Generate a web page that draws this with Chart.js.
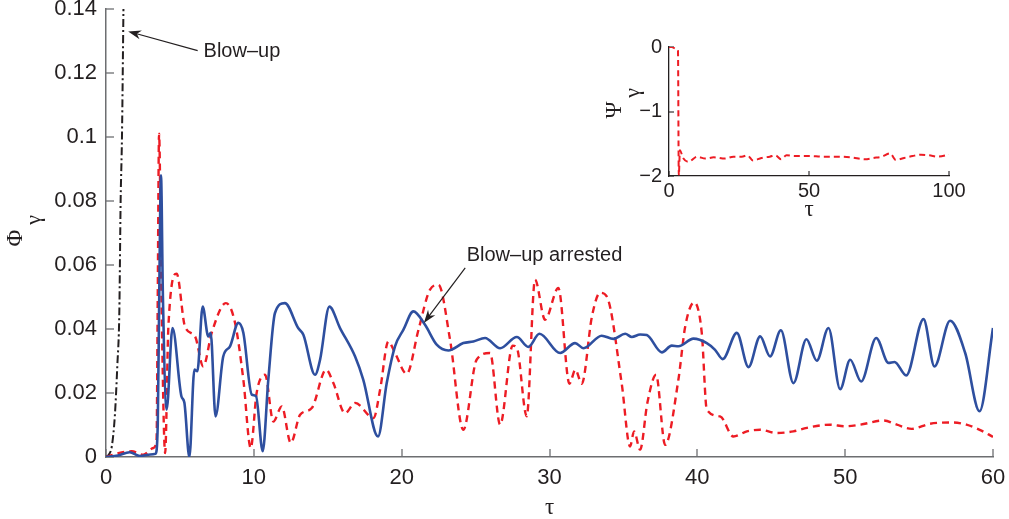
<!DOCTYPE html>
<html>
<head>
<meta charset="utf-8">
<script src="https://cdn.jsdelivr.net/npm/chart.js@4"></script>
<style>
  html, body { margin: 0; padding: 0; background: #ffffff; }
  #wrap { position: relative; width: 1009px; height: 519px; }
  canvas { position: absolute; left: 0; top: 0; }
</style>
</head>
<body>
<div id="wrap">
  <canvas id="main" width="1009" height="519"></canvas>
  <canvas id="inset" width="1009" height="519"></canvas>
</div>
<script>
// ---------- data ----------
const blowUpTau = [0, 0.2, 0.4, 0.6, 0.77, 0.9, 0.99, 1.08, 1.18];
const blowUpPhi = [0, 0.0008, 0.0035, 0.013, 0.029, 0.045, 0.08, 0.1, 0.14];

const redTau = [0, 0.83, 1.74, 2.52, 3.2, 3.42, 3.5, 3.59, 3.75, 4.0, 4.22, 4.78, 5.34, 6.02, 6.58, 7.15, 8.11, 8.73, 9.29, 9.79,
  10.19, 10.76, 11.32, 11.89, 12.5, 13.13, 13.92, 14.89, 15.38, 16.17, 16.85, 18.1, 18.54, 19.1, 19.55, 20.34, 21.14, 21.92, 22.49, 23.27,
  24.17, 25.07, 25.98, 26.66, 27.51, 27.8, 28.46, 29.02, 29.7, 30.6, 31.35, 31.75, 32.18, 32.87, 33.42, 33.87, 34.88, 35.45, 35.72, 36.13,
  36.62, 37.21, 37.82, 38.72, 39.18, 39.78, 40.3, 40.64, 41.54, 42.44, 43.35, 44.25, 45.37, 46.5, 47.41, 48.98, 50.0, 51.0, 52.6, 53.5,
  54.5, 55.75, 57.3, 58.2, 59.1, 60];
const redPhi = [0, 0.0012, 0.0018, 0.0007, 0.0028, 0.0054, 0.05, 0.101, 0.05, 0.0012, 0.0408, 0.0573, 0.0408, 0.0377, 0.0283, 0.0388, 0.0481, 0.0419, 0.0242, 0.0028,
  0.02, 0.0257, 0.0111, 0.0158, 0.0044, 0.0132, 0.0153, 0.0273, 0.0231, 0.0137, 0.0169, 0.0122, 0.021, 0.0361, 0.0325, 0.026, 0.0398, 0.0523, 0.0538, 0.0367,
  0.0085, 0.0304, 0.0325, 0.0101, 0.0348, 0.034, 0.0127, 0.0554, 0.0429, 0.0528, 0.0229, 0.0273, 0.0229, 0.0439, 0.0513, 0.0502, 0.0231, 0.0033, 0.008, 0.0023,
  0.0169, 0.0257, 0.0038, 0.0242, 0.0408, 0.0483, 0.0388, 0.0148, 0.0127, 0.0064, 0.008, 0.0085, 0.0075, 0.008, 0.0091, 0.0101, 0.0096, 0.0101, 0.0114, 0.0101,
  0.0088, 0.0104, 0.0108, 0.0101, 0.0085, 0.0063];

const blueTau = [0, 0.8, 1.6, 2.3, 3.0, 3.35, 3.5, 3.6, 3.72, 3.85, 4.1, 4.5, 5.1, 5.3, 5.64, 5.98, 6.18, 6.54, 6.92, 7.08,
  7.41, 7.93, 8.39, 8.95, 9.29, 9.86, 10.15, 10.6, 10.98, 11.43, 12.1, 13.0, 13.35, 14.14, 14.48, 15.11, 15.83, 16.85, 17.4, 18.4,
  18.99, 19.55, 20.12, 20.79, 21.58, 22.37, 23.16, 24.17, 24.85, 25.64, 26.66, 27.79, 28.57, 29.32, 30.72, 31.73, 32.3, 33.53, 34.32, 35.12,
  35.57, 36.13, 36.58, 37.6, 38.27, 38.72, 39.74, 40.64, 41.2, 41.72, 42.67, 43.46, 44.25, 44.92, 45.65, 46.5, 47.38, 48.08, 48.87, 49.66,
  50.34, 51.08, 52.1, 52.93, 53.34, 54.13, 55.3, 56.04, 57.1, 58.12, 59.09, 60];
const bluePhi = [0, 0.0005, 0.0015, 0.0003, 0.0008, 0.001, 0.01, 0.05, 0.088, 0.05, 0.0148, 0.0403, 0.019, 0.017, 0, 0.0273, 0.0268, 0.047, 0.0377, 0.0388,
  0.0127, 0.0314, 0.0346, 0.0419, 0.0388, 0.0195, 0.019, 0.0018, 0.0242, 0.045, 0.0481, 0.0403, 0.0382, 0.0257, 0.0304, 0.047, 0.0403, 0.0314, 0.0242, 0.0064,
  0.0231, 0.0346, 0.0398, 0.0455, 0.0413, 0.0351, 0.0333, 0.0356, 0.0361, 0.0372, 0.034, 0.0375, 0.0344, 0.0385, 0.0325, 0.0356, 0.034, 0.0379, 0.0369, 0.0385,
  0.0375, 0.0383, 0.0381, 0.0327, 0.0348, 0.0346, 0.037, 0.0356, 0.0335, 0.0306, 0.0388, 0.0281, 0.0377, 0.0314, 0.0396, 0.0231, 0.0368, 0.0301, 0.0403, 0.0212,
  0.0304, 0.0236, 0.0372, 0.0294, 0.0297, 0.0255, 0.0431, 0.0283, 0.0426, 0.0325, 0.0143, 0.0403];

const insetTau = [0, 1, 2.5, 3.2, 3.5, 3.9, 5, 7, 10, 13, 16, 20, 23, 26, 28, 30, 33, 36, 38, 40,
  42, 45, 50, 55, 60, 65, 70, 73, 76, 79, 81, 84, 87, 90, 93, 96, 100];
const insetPsi = [0, 0, -0.03, -0.05, -2.0, -1.6, -1.72, -1.78, -1.70, -1.73, -1.71, -1.73, -1.70, -1.70, -1.68, -1.76, -1.72, -1.70, -1.68, -1.74,
  -1.68, -1.69, -1.69, -1.70, -1.70, -1.71, -1.74, -1.72, -1.70, -1.65, -1.75, -1.72, -1.69, -1.67, -1.68, -1.70, -1.67];

const mainXTicks = [0, 10, 20, 30, 40, 50, 60];
const mainYTicks = [0, 0.02, 0.04, 0.06, 0.08, 0.1, 0.12, 0.14];
const insetXTicks = [0, 50, 100];
const insetYTicks = [-2, -1, 0];

// ---------- helpers ----------
const pts = (xs, ys) => xs.map((x, i) => ({ x: x, y: ys[i] }));
const TXT = '#231f20';
const FONT = "'Liberation Sans', Arial, Helvetica, sans-serif";
const GREEK = "'Liberation Serif', 'DejaVu Serif', serif";

function makeInwardTicks(id) {
  return {
    id: id,
    beforeDatasetsDraw(chart, args, o) {
      const { ctx, chartArea } = chart;
      const x = chart.scales.x, y = chart.scales.y;
      ctx.save();
      ctx.strokeStyle = o.color || '#6d6e71';
      ctx.lineWidth = o.width || 1.3;
      const len = o.len || 7;
      x.ticks.forEach(t => {
        const p = Math.round(x.getPixelForValue(t.value));
        ctx.beginPath(); ctx.moveTo(p, chartArea.bottom); ctx.lineTo(p, chartArea.bottom - len); ctx.stroke();
      });
      y.ticks.forEach(t => {
        const p = Math.round(y.getPixelForValue(t.value));
        ctx.beginPath(); ctx.moveTo(chartArea.left, p); ctx.lineTo(chartArea.left + len, p); ctx.stroke();
      });
      ctx.restore();
    }
  };
}

function drawArrow(ctx, x1, y1, x2, y2) {
  const ang = Math.atan2(y2 - y1, x2 - x1);
  const L = 13, W = 4.5;
  ctx.beginPath();
  ctx.moveTo(x1, y1);
  ctx.lineTo(x2 - Math.cos(ang) * 6, y2 - Math.sin(ang) * 6);
  ctx.stroke();
  ctx.beginPath();
  ctx.moveTo(x2, y2);
  ctx.lineTo(x2 - L * Math.cos(ang) + W * Math.sin(ang), y2 - L * Math.sin(ang) - W * Math.cos(ang));
  ctx.lineTo(x2 - (L - 4) * Math.cos(ang), y2 - (L - 4) * Math.sin(ang));
  ctx.lineTo(x2 - L * Math.cos(ang) - W * Math.sin(ang), y2 - L * Math.sin(ang) + W * Math.cos(ang));
  ctx.closePath();
  ctx.fill();
}

function rotatedText(ctx, text, cx, cy, font) {
  ctx.save();
  ctx.translate(cx, cy);
  ctx.rotate(-Math.PI / 2);
  ctx.font = font;
  ctx.textAlign = 'center';
  ctx.textBaseline = 'middle';
  ctx.fillText(text, 0, 0);
  ctx.restore();
}

const mainDecor = {
  id: 'mainDecor',
  afterDraw(chart) {
    const { ctx } = chart;
    const x = chart.scales.x, y = chart.scales.y;
    ctx.save();
    ctx.fillStyle = TXT;
    ctx.strokeStyle = TXT;
    ctx.lineWidth = 1.2;
    // Blow-up annotation
    drawArrow(ctx, x.getPixelForValue(6.2), y.getPixelForValue(0.127), x.getPixelForValue(1.5), y.getPixelForValue(0.133));
    ctx.font = '20px ' + FONT;
    ctx.textAlign = 'left';
    ctx.textBaseline = 'middle';
    ctx.fillText('Blow\u2013up', x.getPixelForValue(6.6), y.getPixelForValue(0.1268));
    // Blow-up arrested annotation
    drawArrow(ctx, x.getPixelForValue(24.3), y.getPixelForValue(0.0591), x.getPixelForValue(21.5), y.getPixelForValue(0.0419));
    ctx.fillText('Blow\u2013up arrested', x.getPixelForValue(24.4), y.getPixelForValue(0.0630));
    // axis titles
    ctx.font = '23px ' + GREEK;
    ctx.textAlign = 'center';
    ctx.fillText('\u03C4', (chart.chartArea.left + chart.chartArea.right) / 2, 508);
    rotatedText(ctx, '\u03A6', 16, 238, '23px ' + GREEK);
    rotatedText(ctx, '\u03B3', 34, 220, '22px ' + GREEK);
    ctx.restore();
  }
};

const insetDecor = {
  id: 'insetDecor',
  afterDraw(chart) {
    const { ctx } = chart;
    ctx.save();
    ctx.fillStyle = TXT;
    ctx.font = '23px ' + GREEK;
    ctx.textAlign = 'center';
    ctx.textBaseline = 'middle';
    ctx.fillText('\u03C4', (chart.chartArea.left + chart.chartArea.right) / 2, 210);
    rotatedText(ctx, '\u03A8', 615, 110, '23px ' + GREEK);
    rotatedText(ctx, '\u03B3', 633, 93, '22px ' + GREEK);
    ctx.restore();
  }
};

const whiteBg = {
  id: 'whiteBg',
  beforeDraw(chart) {
    const { ctx } = chart;
    ctx.save();
    ctx.fillStyle = '#ffffff';
    ctx.fillRect(0, 0, chart.width, chart.height);
    ctx.restore();
  }
};

function fixWidth(w) {
  return function (scale) { scale.width = w; scale.paddingTop = 0; scale.paddingBottom = 0; };
}
function fixHeight(h) {
  return function (scale) { scale.height = h; scale.paddingLeft = 0; scale.paddingRight = 0; };
}
function setTicks(arr) {
  return function (scale) { scale.ticks = arr.map(v => ({ value: v })); };
}

Chart.defaults.font.family = FONT;
Chart.defaults.color = TXT;

// ---------- main chart ----------
new Chart(document.getElementById('main'), {
  type: 'line',
  data: {
    datasets: [
      { label: 'blow-up', data: pts(blowUpTau, blowUpPhi), borderColor: '#231f20', borderWidth: 2,
        borderDash: [8, 3, 2, 3], pointRadius: 0, cubicInterpolationMode: 'monotone', order: 3 },
      { label: 'red', data: pts(redTau, redPhi), borderColor: '#ed1c24', borderWidth: 2.4,
        borderDash: [7, 5], pointRadius: 0, cubicInterpolationMode: 'monotone', order: 2 },
      { label: 'blue', data: pts(blueTau, bluePhi), borderColor: '#2e4f9f', borderWidth: 2.6,
        pointRadius: 0, cubicInterpolationMode: 'monotone', order: 1 }
    ]
  },
  options: {
    responsive: false,
    animation: false,
    devicePixelRatio: 1,
    layout: { padding: { left: 0, right: 16, top: 9, bottom: 0 } },
    plugins: {
      legend: { display: false }, tooltip: { enabled: false },
      inwardTicks: { color: '#6d6e71', width: 1.3, len: 8 }
    },
    scales: {
      x: {
        type: 'linear', min: 0, max: 60,
        afterBuildTicks: setTicks(mainXTicks),
        afterFit: fixHeight(62),
        grid: { display: false, drawTicks: false },
        border: { display: true, color: '#6d6e71', width: 1.5 },
        ticks: { padding: 8, font: { size: 22 }, color: TXT, maxRotation: 0, callback: v => String(v) }
      },
      y: {
        type: 'linear', min: 0, max: 0.14,
        afterBuildTicks: setTicks(mainYTicks),
        afterFit: fixWidth(106),
        grid: { display: false, drawTicks: false },
        border: { display: true, color: '#6d6e71', width: 1.5 },
        ticks: { padding: 9, font: { size: 22 }, color: TXT, callback: v => String(+v.toFixed(2)) }
      }
    }
  },
  plugins: [whiteBg, makeInwardTicks('inwardTicks'), mainDecor]
});

// ---------- inset chart ----------
new Chart(document.getElementById('inset'), {
  type: 'line',
  data: {
    datasets: [
      { label: 'psi', data: pts(insetTau, insetPsi), borderColor: '#ed1c24', borderWidth: 2,
        borderDash: [6, 4], pointRadius: 0, cubicInterpolationMode: 'monotone' }
    ]
  },
  options: {
    responsive: false,
    animation: false,
    devicePixelRatio: 1,
    layout: { padding: { left: 629, right: 60, top: 47, bottom: 313 } },
    plugins: {
      legend: { display: false }, tooltip: { enabled: false },
      inwardTicksInset: { color: '#231f20', width: 1.1, len: 5 }
    },
    scales: {
      x: {
        type: 'linear', min: 0, max: 100,
        afterBuildTicks: setTicks(insetXTicks),
        afterFit: fixHeight(30),
        grid: { display: false, drawTicks: false },
        border: { display: true, color: '#231f20', width: 1.3 },
        ticks: { padding: 3, font: { size: 20 }, color: TXT, maxRotation: 0, callback: v => String(v) }
      },
      y: {
        type: 'linear', min: -2, max: 0,
        afterBuildTicks: setTicks(insetYTicks),
        afterFit: fixWidth(40),
        grid: { display: false, drawTicks: false },
        border: { display: true, color: '#231f20', width: 1.3 },
        ticks: { padding: 7, font: { size: 20 }, color: TXT, callback: v => (v < 0 ? '\u2212' + Math.abs(v) : String(v)) }
      }
    }
  },
  plugins: [makeInwardTicks('inwardTicksInset'), insetDecor]
});
</script>
</body>
</html>
